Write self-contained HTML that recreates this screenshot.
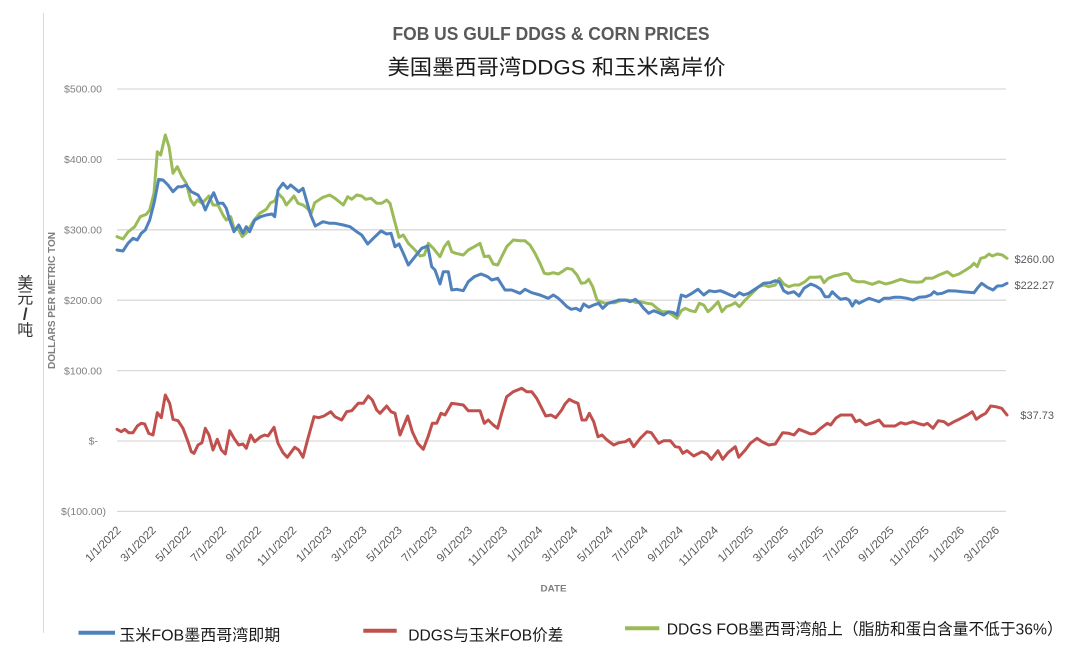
<!DOCTYPE html>
<html>
<head>
<meta charset="utf-8">
<style>
  html, body { margin:0; padding:0; background:#ffffff; }
  svg { display:block; }
  text { font-family: "Liberation Sans", "Noto Sans CJK SC", sans-serif; }
</style>
</head>
<body>
<svg width="1080" height="658" viewBox="0 0 1080 658" xmlns="http://www.w3.org/2000/svg">
  <rect x="0" y="0" width="1080" height="658" fill="#ffffff"/>

  <!-- left frame line -->
  <line x1="43.5" y1="13" x2="43.5" y2="633" stroke="#d9d9d9" stroke-width="1"/>

  <!-- Titles -->
  <text x="392.5" y="40" font-size="18" font-weight="bold" fill="#595959" textLength="317" lengthAdjust="spacingAndGlyphs">FOB US GULF DDGS &amp; CORN PRICES</text>
  <text x="387.5" y="74.5" font-size="21" fill="#1a1a1a" textLength="338" lengthAdjust="spacingAndGlyphs">美国墨西哥湾DDGS 和玉米离岸价</text>

  <!-- gridlines -->
  <g stroke="#d9d9d9" stroke-width="1.3">
    <line x1="117" y1="89" x2="1006" y2="89"/>
    <line x1="117" y1="159.4" x2="1006" y2="159.4"/>
    <line x1="117" y1="229.8" x2="1006" y2="229.8"/>
    <line x1="117" y1="300.2" x2="1006" y2="300.2"/>
    <line x1="117" y1="370.6" x2="1006" y2="370.6"/>
    <line x1="117" y1="441" x2="1006" y2="441"/>
    <line x1="117" y1="511.4" x2="1006" y2="511.4"/>
  </g>

  <!-- y tick labels -->
  <g font-size="10.5" fill="#7f7f7f" text-anchor="end">
    <text x="102" y="92.7">$500.00</text>
    <text x="102" y="163.1">$400.00</text>
    <text x="102" y="233.5">$300.00</text>
    <text x="102" y="303.9">$200.00</text>
    <text x="102" y="374.3">$100.00</text>
    <text x="98" y="444.7">$-</text>
    <text x="106" y="515.1">$(100.00)</text>
  </g>

  <!-- y axis title -->
  <text x="55" y="300.5" transform="rotate(-90 55 300.5)" text-anchor="middle" font-size="10" font-weight="bold" fill="#7f7f7f" textLength="137" lengthAdjust="spacingAndGlyphs">DOLLARS PER METRIC TON</text>

  <!-- 美元/吨 -->
  <g font-size="16" fill="#333333" text-anchor="middle" style="font-family:'Noto Serif CJK SC','Noto Sans CJK SC',serif;">
    <text x="25.3" y="288.5">美</text>
    <text x="25.3" y="303.5">元</text>
    <text x="25.3" y="319.5" style="font-family:'Liberation Sans',sans-serif;" font-size="17" font-weight="bold">/</text>
    <text x="25.3" y="335.5">吨</text>
  </g>

  <!-- series -->
  <g fill="none" stroke-width="3" stroke-linejoin="round" stroke-linecap="round">
    <polyline stroke="#9BBB59" points="117,236.7 123,239 128,232 134.7,226.7 140.3,216.7 146.3,214.3 149.7,210 154,193 157.3,151.7 160.7,155 165.3,135 169,146.7 173,173.3 177.3,166.7 182,176.7 186.3,183.3 190.7,200 194,205 197.3,200 202,203.3 209,196 213,205 218,205 223,215 226.3,220 230.7,216.7 234,228.3 238.7,230 242.3,236.7 247.3,231.7 253,221.7 259.7,213.3 266.3,209.3 270.7,202.7 274.7,201 278,193.3 283,198.3 286.3,205 290.7,200 294,196 298,203.3 303,205 307.3,208.3 311.3,213.3 314.7,202.7 323,197.3 329.7,195 335,198.3 343.3,205 347.7,196.7 351.7,199.3 356.7,195 361.7,196 365.7,199.3 371,198.3 376.7,203.3 381.7,203.3 386.7,200 390,203.3 394.3,220 399,237.3 403.3,235 408.3,243.3 415,250 420,256 424.3,255 428.3,243.3 433.3,248.3 440,256.7 444.3,246.7 448.3,241.7 451.7,251.7 455.7,253.3 463.3,255 468.3,250 474.3,246.7 480,243.3 484.3,256.7 489,256 493.3,264 497.7,265 501.7,256.7 506.7,246.7 513.3,240 520,240.7 525,240.7 530,245 535,253.3 540,263.3 544.3,273.3 548.3,274 553.3,272.7 558.3,274 562,271.7 567,268.3 572,269.3 577,275 581.3,283.3 585.3,282.7 588.7,279.3 592.7,286.7 597,300 600.3,301.7 605.3,303.3 610.3,302.7 614.7,302.7 620.3,300.7 627,300 632,300.7 636,302.7 640.3,301.7 647,303.3 652,304 657,308.3 662,311.7 667,311.7 672.7,315 677,318.3 681.3,310.7 685.3,308.3 690.3,310.7 695.3,311.7 699.3,303.3 703.7,305 708,311.7 712,308.3 718,301.7 722,311.7 726.3,306.7 731.3,305 735.3,302.7 739.3,306.7 745.3,300 752,293.3 758.7,286.7 763.7,285 768.7,286.7 775.3,285 779.3,278.3 783.7,284 788.7,286.7 794,285 799,285 805,281.7 809.7,277.3 815.7,277.3 820.7,276.7 824,282.7 828.3,278.3 834,276 839,275 845,273.3 848.3,274 852.3,280 857.3,281.7 864,281.7 872.3,284.3 879,281.7 885.7,284 892.3,282.3 900.7,279.3 909,281.7 917.3,282.3 922.3,281.7 925.7,278.3 932.3,278.3 939,275 947.3,271.7 953,276 959,274 965.7,270 970.7,266.7 974,263.3 977.3,266.7 980.7,258.3 985,257.3 989,254 992.3,256 997.3,254 1002.3,255 1007,258.3"/>
    <polyline stroke="#4F81BD" points="117,250 123,251 128,243.3 133,238.3 137.3,240 141.3,233.3 145.3,230 149.7,220 154,203.3 158.7,179.3 163,180 168,185 173,191.7 178,186.7 182,186.7 186.3,185 191.3,191.7 198,195 202,201.7 205.3,210 209,201.7 213.7,192.7 218,203.3 223,203.3 226.3,208.3 229.7,220 234,231.7 238.7,225 243,233.3 246.3,226.7 249.7,231.7 254.7,220 260.7,216.7 266.3,215 272,214 274.7,216.7 278,190 283,183.3 287.3,188.3 290.7,185 294.7,188.3 298.7,191.7 303,188.3 307.3,203.3 310.7,215 315.3,226 323,221.7 329.7,223.3 335,223.3 343.3,225 350,226.7 356.7,231.7 361.7,235 367.7,244 373.3,238.3 381,231 386.7,234 391,233.3 395,246.7 399,244 403.3,253.3 408.3,265 415,256.7 421.7,248.3 427.7,246 431.7,266.7 435,270 440,284 443.3,271.7 448.3,271.7 451.7,290 456.7,289.3 463.3,290.7 468.3,281.7 474.3,276.7 481,274 487.7,276.7 491.7,280 497.7,278.3 505,290 511.7,290 520,293.3 525,289.3 531.7,292.7 540,295 548.3,298.3 553.3,295 558.3,298.3 562,301.7 567,306.7 571.3,309.3 576,308.3 580.3,310.7 583.7,304 588.7,307.3 593.7,305 598.7,303.3 602.7,308.3 608,303.3 613.7,301.7 618.7,300 625.3,300 630.3,301.7 635.3,299.3 639.3,302.7 643.7,308.3 648.7,313.3 653.7,310.7 658.7,312.7 663.7,315 668.7,311.7 673.7,312.7 677,315 681.3,295 686,296.7 692,293.3 698,289.3 703.7,295 709.3,290.7 714.7,291.7 720.3,290.7 725.3,292.7 730.3,295 734.7,296.7 739.3,292.7 743.7,295 748.7,293.3 753.7,290 758.7,286.7 763.7,283.3 770.3,282.7 775.3,280.7 779.3,281.7 783.7,290.7 788,293.3 794,291.7 799,296 804,288.3 810.7,284 815.7,286 820.7,289.3 825,296.7 829,296.7 832.3,291.7 837.3,296.7 840.7,299.3 845.7,298.3 849,300 852.3,306 855.7,300.7 859,303.3 864,300.7 869,298.3 874,300 879,301.7 884,298.3 889,298.3 894,297.3 900.7,297.3 907.3,298.3 913,300 919,297.3 925.7,296.7 930.7,295 934,291.7 937.3,294 942.3,293.3 948.3,290.7 955.7,291 962.3,291.7 969,292.3 974,292.7 977.3,288.3 981.7,283.3 987.3,287.3 993,290 997.3,286 1002.3,285.7 1007,283.3"/>
    <polyline stroke="#C0504D" points="117,429.3 121.3,431.7 124.7,429.3 128.7,432.7 133,432.7 137.3,426 141.3,423.3 144.7,424 148.7,433.3 153,435 157.3,412.7 161.3,417.7 165.3,395 169.7,403.3 173,419.3 178,420.7 183,428.3 188,441.7 191.3,451.7 194,453.3 198,445 202,442.7 205.3,428.3 209,435 213,450 217.3,439.3 221.3,450 225.3,454 229.7,430.7 234,438.3 238.7,445 243,444 246.3,448.3 250.7,435 254.7,441.7 260.7,436.7 264.7,435 268,436 274,427.3 278,443.3 283,452.7 287.3,457.3 294.7,447.3 298.7,450 303,457.3 308,438.3 314,416.7 318.7,417.7 324,416 330.7,411.7 335,416.7 341.7,420 346.7,411.7 351.7,410.7 358.3,403.3 363.3,403.3 368.3,396 372.3,400 376.7,410 380,413.3 386.7,406 391,411.7 395,413.3 400,435 407.7,416 412.3,431.7 417.7,443.3 423.3,449.3 428.3,436 432.3,423.3 436.7,423.3 441,413.3 445,415 451.7,403.3 456.7,404 463.3,405 468.3,410.7 475,410.7 480,410.7 484.3,423.3 488.3,420 493.3,425 497.7,428.3 501.7,413.3 506.7,396.7 513.3,391.7 521.7,388.3 526.7,391.7 531.7,391.7 536.7,398.3 541,406.7 545.7,416 551,415 555.7,417.7 561.7,410 565,404 569.3,399.3 573.7,401.7 578,403.3 582,420 586,420 589.3,413.3 593.7,421.7 598,436.7 602,435 607,440 613.7,445 618.7,442.7 625.3,441.7 629.3,439.3 633.7,446.7 640.3,438.3 647,431.7 651.3,432.7 658.7,443.3 663.7,440.7 670.3,440.7 675.3,446.7 679.3,447.3 682.7,453.3 687,450.7 693.7,456 702,451.7 707,454 711.3,459.3 718,450.7 722.7,459.3 728,452.7 735.3,446.7 738.7,457.3 745.3,450 750.3,443.3 757,438.3 762,441.7 768.7,445 775.3,444 782.7,432.7 788.7,433.3 794,435 799,429.3 805,431.7 810.7,434 815,433.3 820.7,428.3 827.3,423.3 830.7,425 835.7,418.3 840.7,415 846.3,415 851.7,415 855.7,421.7 859.7,420 865.7,425 872.3,422.7 879,420 884,426 889,426 895,426 900.7,422.7 905.7,424 913,421.7 919.7,424 924,425 927.3,423.3 933,428.3 938.3,420.7 944,421.7 948.3,425 954,421.7 959,419.3 967.3,415 972.3,411.7 976.3,419.3 980.7,416 985.7,413.3 990.7,406 995.7,406.7 1001.7,408.3 1007,415"/>
  </g>

  <!-- end value labels -->
  <g font-size="11" fill="#595959">
    <text x="1014.5" y="263">$260.00</text>
    <text x="1014.5" y="289">$222.27</text>
    <text x="1020.4" y="419">$37.73</text>
  </g>

  <!-- x tick labels -->
  <g font-size="11.5" fill="#595959" text-anchor="end">
    <text x="121.5" y="531" transform="rotate(-45 121.5 531)">1/1/2022</text>
    <text x="156.64" y="531" transform="rotate(-45 156.64 531)">3/1/2022</text>
    <text x="191.78" y="531" transform="rotate(-45 191.78 531)">5/1/2022</text>
    <text x="226.92" y="531" transform="rotate(-45 226.92 531)">7/1/2022</text>
    <text x="262.06" y="531" transform="rotate(-45 262.06 531)">9/1/2022</text>
    <text x="297.2" y="531" transform="rotate(-45 297.2 531)">11/1/2022</text>
    <text x="332.34" y="531" transform="rotate(-45 332.34 531)">1/1/2023</text>
    <text x="367.48" y="531" transform="rotate(-45 367.48 531)">3/1/2023</text>
    <text x="402.62" y="531" transform="rotate(-45 402.62 531)">5/1/2023</text>
    <text x="437.76" y="531" transform="rotate(-45 437.76 531)">7/1/2023</text>
    <text x="472.9" y="531" transform="rotate(-45 472.9 531)">9/1/2023</text>
    <text x="508.04" y="531" transform="rotate(-45 508.04 531)">11/1/2023</text>
    <text x="543.18" y="531" transform="rotate(-45 543.18 531)">1/1/2024</text>
    <text x="578.32" y="531" transform="rotate(-45 578.32 531)">3/1/2024</text>
    <text x="613.46" y="531" transform="rotate(-45 613.46 531)">5/1/2024</text>
    <text x="648.6" y="531" transform="rotate(-45 648.6 531)">7/1/2024</text>
    <text x="683.74" y="531" transform="rotate(-45 683.74 531)">9/1/2024</text>
    <text x="718.88" y="531" transform="rotate(-45 718.88 531)">11/1/2024</text>
    <text x="754.02" y="531" transform="rotate(-45 754.02 531)">1/1/2025</text>
    <text x="789.16" y="531" transform="rotate(-45 789.16 531)">3/1/2025</text>
    <text x="824.3" y="531" transform="rotate(-45 824.3 531)">5/1/2025</text>
    <text x="859.44" y="531" transform="rotate(-45 859.44 531)">7/1/2025</text>
    <text x="894.58" y="531" transform="rotate(-45 894.58 531)">9/1/2025</text>
    <text x="929.72" y="531" transform="rotate(-45 929.72 531)">11/1/2025</text>
    <text x="964.86" y="531" transform="rotate(-45 964.86 531)">1/1/2026</text>
    <text x="1000" y="531" transform="rotate(-45 1000 531)">3/1/2026</text>
  </g>

  <!-- x axis title -->
  <text x="553.5" y="591.5" text-anchor="middle" font-size="9" font-weight="bold" fill="#7f7f7f" textLength="26" lengthAdjust="spacingAndGlyphs">DATE</text>

  <!-- legend -->
  <g stroke-width="4" stroke-linecap="butt">
    <line x1="78.5" y1="632.7" x2="115" y2="632.7" stroke="#4F81BD"/>
    <line x1="363.3" y1="630.7" x2="396.7" y2="630.7" stroke="#C0504D"/>
    <line x1="625" y1="628.3" x2="659.3" y2="628.3" stroke="#9BBB59"/>
  </g>
  <g font-size="16" fill="#1a1a1a">
    <text x="119.3" y="640.3" textLength="161" lengthAdjust="spacingAndGlyphs">玉米FOB墨西哥湾即期</text>
    <text x="408.3" y="640.3" textLength="155" lengthAdjust="spacingAndGlyphs">DDGS与玉米FOB价差</text>
    <text x="666.7" y="634.5" textLength="396" lengthAdjust="spacingAndGlyphs">DDGS FOB墨西哥湾船上（脂肪和蛋白含量不低于36%）</text>
  </g>
</svg>
</body>
</html>
